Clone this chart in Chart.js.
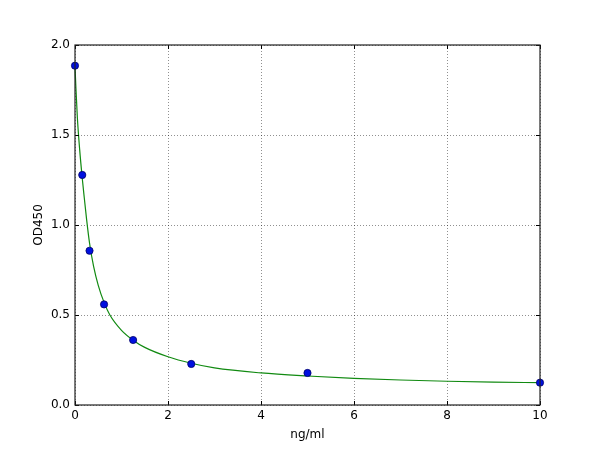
<!DOCTYPE html>
<html>
<head>
<meta charset="utf-8">
<script src="https://cdn.jsdelivr.net/npm/chart.js@4/dist/chart.umd.min.js"></script>
<style>
  html, body { margin: 0; padding: 0; background: #fff; }
  #wrap { width: 600px; height: 450px; }
</style>
</head>
<body>
<div id="wrap"><canvas id="curve"></canvas></div>
<script>
// standard points (ng/ml vs OD450)
const stdConc = [0, 0.156, 0.3125, 0.625, 1.25, 2.5, 5, 10];
const stdOD = [1.885, 1.278, 0.857, 0.559, 0.361, 0.228, 0.178, 0.124];

// fitted curve
const fitConc = [0, 0.02, 0.05, 0.1, 0.156, 0.2, 0.25, 0.3125, 0.4, 0.5, 0.625, 0.75, 1.0, 1.25, 1.5, 2, 2.5, 3, 4, 5, 6, 7, 8, 9, 10];
const fitOD = [1.88, 1.76, 1.60, 1.42, 1.26, 1.15, 1.03, 0.90, 0.77, 0.665, 0.57, 0.50, 0.415, 0.36, 0.32, 0.268, 0.232, 0.206, 0.178, 0.161, 0.148, 0.139, 0.132, 0.127, 0.124];

const xTicks = [0, 2, 4, 6, 8, 10];
const yTicks = [0, 0.5, 1.0, 1.5, 2.0];

const FONT = 'DejaVu Sans';
const toXY = (xs, ys) => xs.map((x, i) => ({ x: x, y: ys[i] }));

// box around the plot + inward ticks on all four sides, matplotlib style
const frame = {
    id: 'frame',
    afterDatasetsDraw(chart) {
        const { ctx, chartArea: a, scales } = chart;
        ctx.save();
        ctx.strokeStyle = '#000';
        ctx.lineWidth = 1;
        ctx.beginPath();
        xTicks.forEach(v => {
            const px = Math.round(scales.x.getPixelForValue(v)) + 0.5;
            ctx.moveTo(px, a.bottom); ctx.lineTo(px, a.bottom - 4);
            ctx.moveTo(px, a.top); ctx.lineTo(px, a.top + 4);
        });
        yTicks.forEach(v => {
            const py = Math.round(scales.y.getPixelForValue(v)) + 0.5;
            ctx.moveTo(a.left, py); ctx.lineTo(a.left + 4, py);
            ctx.moveTo(a.right, py); ctx.lineTo(a.right - 4, py);
        });
        ctx.stroke();
        ctx.lineWidth = 1.2;
        ctx.strokeStyle = '#222';
        ctx.strokeRect(a.left, a.top, a.right - a.left, a.bottom - a.top);
        ctx.restore();
    }
};

new Chart(document.getElementById('curve'), {
    type: 'scatter',
    data: {
        datasets: [
            {
                label: 'fit',
                data: toXY(fitConc, fitOD),
                showLine: true,
                borderColor: '#118a11',
                borderWidth: 1.2,
                pointRadius: 0,
                cubicInterpolationMode: 'monotone',
                order: 2
            },
            {
                label: 'std',
                data: toXY(stdConc, stdOD),
                backgroundColor: '#0010e0',
                borderColor: '#000066',
                borderWidth: 0.8,
                pointRadius: 3.6,
                order: 1
            }
        ]
    },
    options: {
        responsive: true,
        maintainAspectRatio: false,
        animation: false,
        clip: false,
        layout: { padding: { left: 28, right: 60, top: 45, bottom: 4 } },
        plugins: { legend: { display: false }, tooltip: { enabled: false } },
        scales: {
            x: {
                type: 'linear', min: 0, max: 10,
                afterBuildTicks: s => { s.ticks = xTicks.map(v => ({ value: v })); },
                afterFit: s => { s.height = 41; },
                ticks: { color: '#000', padding: 4, font: { family: FONT, size: 12 }, callback: v => String(v) },
                grid: { color: 'rgba(0,0,0,0.55)', lineWidth: 0.8, drawTicks: false },
                border: { display: false, dash: [1, 2] },
                title: { display: true, text: 'ng/ml', color: '#000', padding: { top: 4 }, font: { family: FONT, size: 12 } }
            },
            y: {
                type: 'linear', min: 0, max: 2,
                afterBuildTicks: s => { s.ticks = yTicks.map(v => ({ value: v })); },
                afterFit: s => { s.width = 47; },
                ticks: { color: '#000', padding: 5, font: { family: FONT, size: 12 }, callback: v => v.toFixed(1) },
                grid: { color: 'rgba(0,0,0,0.55)', lineWidth: 0.8, drawTicks: false },
                border: { display: false, dash: [1, 2] },
                title: { display: true, text: 'OD450', color: '#000', padding: { bottom: 8 }, font: { family: FONT, size: 12 } }
            }
        }
    },
    plugins: [frame]
});
</script>
</body>
</html>
